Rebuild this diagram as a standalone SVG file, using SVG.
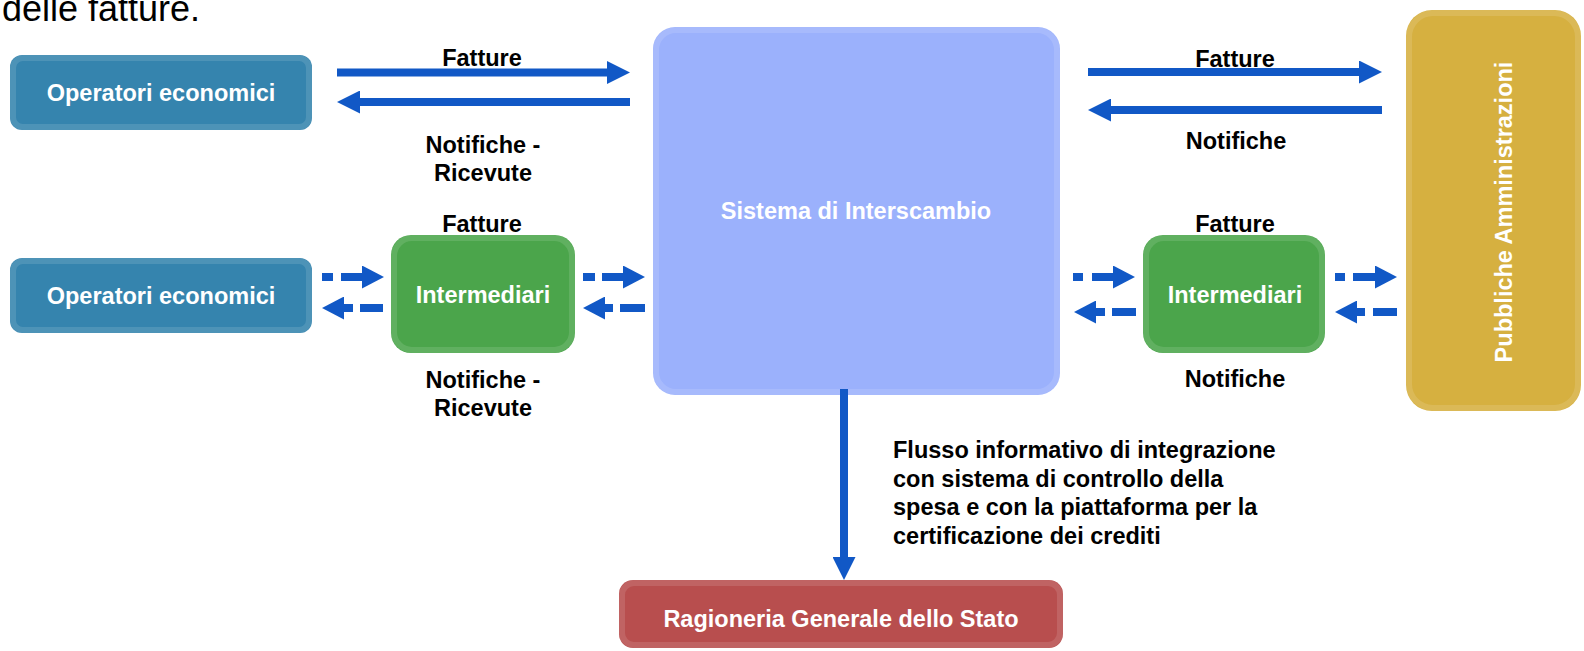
<svg xmlns="http://www.w3.org/2000/svg" width="1584" height="651" viewBox="0 0 1584 651">
<defs>
<style>
.lbl{font-family:"Liberation Sans",Arial,sans-serif;font-weight:bold;font-size:23.5px;fill:#000;text-anchor:middle}
.ntx{font-family:"Liberation Sans",Arial,sans-serif;font-weight:bold;font-size:23.5px;fill:#fff;text-anchor:middle}
.rim{fill:none;stroke:#fff;stroke-opacity:0.12;stroke-width:6}
.sol{fill:none;stroke:#1158c6;stroke-width:8;marker-end:url(#ah)}
.dsh{fill:none;stroke:#1158c6;stroke-width:8;marker-end:url(#ahd)}
</style>
<marker id="ah" viewBox="0 0 23 23" refX="0" refY="11.5" markerWidth="23" markerHeight="23" markerUnits="userSpaceOnUse" orient="auto">
<path d="M0,0 L23,11.5 L0,23 z" fill="#1158c6"/>
</marker>
<marker id="ahd" viewBox="0 0 22 23" refX="0" refY="11.5" markerWidth="22" markerHeight="23" markerUnits="userSpaceOnUse" orient="auto">
<path d="M0,0 L22,11.5 L0,23 z" fill="#1158c6"/>
</marker>
</defs>
<rect width="1584" height="651" fill="#fff"/>
<text x="2" y="21" font-family="'Liberation Sans',Arial,sans-serif" font-size="36" fill="#000">delle fatture.</text>

<g id="op1">
<rect x="10" y="55" width="302" height="75" rx="12" fill="#3584ae"/>
<rect x="13" y="58" width="296" height="69" rx="10" class="rim"/>
<text x="161" y="101" class="ntx">Operatori economici</text>
</g>
<g id="op2">
<rect x="10" y="258" width="302" height="75" rx="12" fill="#3584ae"/>
<rect x="13" y="261" width="296" height="69" rx="10" class="rim"/>
<text x="161" y="304" class="ntx">Operatori economici</text>
</g>
<g id="int1">
<rect x="391" y="235" width="184" height="118" rx="20" fill="#4ba54b"/>
<rect x="394" y="238" width="178" height="112" rx="18" class="rim"/>
<text x="483" y="303" class="ntx">Intermediari</text>
</g>
<g id="sdi">
<rect x="653" y="27" width="407" height="368" rx="22" fill="#9bb1fc"/>
<rect x="656" y="30" width="401" height="362" rx="20" class="rim"/>
<text x="856" y="219" class="ntx">Sistema di Interscambio</text>
</g>
<g id="int2">
<rect x="1143" y="235" width="182" height="118" rx="20" fill="#4ba54b"/>
<rect x="1146" y="238" width="176" height="112" rx="18" class="rim"/>
<text x="1235" y="303" class="ntx">Intermediari</text>
</g>
<g id="pa">
<rect x="1406" y="10" width="175" height="401" rx="26" fill="#d6b040"/>
<rect x="1409" y="13" width="169" height="395" rx="24" class="rim"/>
<text transform="translate(1512,212) rotate(-90)" class="ntx" x="0" y="0">Pubbliche Amministrazioni</text>
</g>
<g id="rgs">
<rect x="619" y="580" width="444" height="68" rx="14" fill="#b84e4e"/>
<rect x="622" y="583" width="438" height="62" rx="12" class="rim"/>
<text x="841" y="627" class="ntx">Ragioneria Generale dello Stato</text>
</g>

<g id="connectors">
<path class="sol" d="M337 72.5 H607"/>
<path class="sol" d="M630 102 H360"/>
<path class="sol" d="M1088 72 H1359"/>
<path class="sol" d="M1382 110 H1111"/>
<path class="sol" d="M844 389 V557"/>
<path class="dsh" d="M322 277 H333 M341 277 H362"/>
<path class="dsh" d="M383 308 H360 M353 308 H344"/>
<path class="dsh" d="M583 277 H595 M602 277 H623"/>
<path class="dsh" d="M645 308 H620 M613 308 H605"/>
<path class="dsh" d="M1073 277 H1083 M1092 277 H1113"/>
<path class="dsh" d="M1136 312 H1112 M1105 312 H1096"/>
<path class="dsh" d="M1335 277 H1345 M1353 277 H1375"/>
<path class="dsh" d="M1397 312 H1373 M1365 312 H1357"/>
</g>

<g id="labels">
<text x="482" y="66" class="lbl">Fatture</text>
<text x="483" y="153" class="lbl">Notifiche -</text>
<text x="483" y="181" class="lbl">Ricevute</text>
<text x="1235" y="67" class="lbl">Fatture</text>
<text x="1236" y="149" class="lbl">Notifiche</text>
<text x="482" y="232" class="lbl">Fatture</text>
<text x="483" y="388" class="lbl">Notifiche -</text>
<text x="483" y="416" class="lbl">Ricevute</text>
<text x="1235" y="232" class="lbl">Fatture</text>
<text x="1235" y="387" class="lbl">Notifiche</text>
<text class="lbl" style="text-anchor:start">
<tspan x="893" y="458">Flusso informativo di integrazione</tspan>
<tspan x="893" y="486.5">con sistema di controllo della</tspan>
<tspan x="893" y="515">spesa e con la piattaforma per la</tspan>
<tspan x="893" y="543.5">certificazione dei crediti</tspan>
</text>
</g>
</svg>
